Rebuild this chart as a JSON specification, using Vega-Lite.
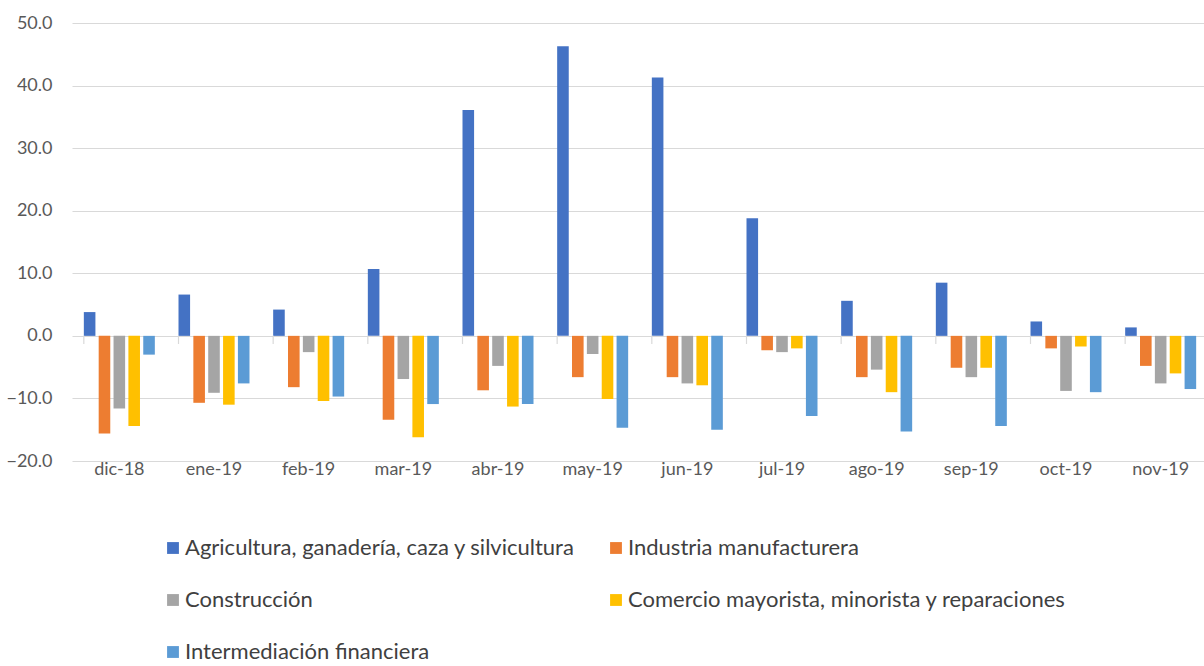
{
  "$schema": "https://vega.github.io/schema/vega-lite/v6.json",
  "width": 1136,
  "height": 438,
  "autosize": {"type": "none"},
  "padding": {"left": 72, "top": 23, "right": 0, "bottom": 205},
  "background": "white",
  "config": {
    "font": "Lato",
    "view": {"stroke": null}
  },
  "datasets": {
    "rows": [
      {"m": "dic-18", "s": "Agricultura, ganadería, caza y silvicultura", "v": 3.8},
      {"m": "dic-18", "s": "Industria manufacturera", "v": -15.6},
      {"m": "dic-18", "s": "Construcción", "v": -11.6},
      {"m": "dic-18", "s": "Comercio mayorista, minorista y reparaciones", "v": -14.4},
      {"m": "dic-18", "s": "Intermediación financiera", "v": -3.0},
      {"m": "ene-19", "s": "Agricultura, ganadería, caza y silvicultura", "v": 6.6},
      {"m": "ene-19", "s": "Industria manufacturera", "v": -10.7},
      {"m": "ene-19", "s": "Construcción", "v": -9.1},
      {"m": "ene-19", "s": "Comercio mayorista, minorista y reparaciones", "v": -11.0},
      {"m": "ene-19", "s": "Intermediación financiera", "v": -7.6},
      {"m": "feb-19", "s": "Agricultura, ganadería, caza y silvicultura", "v": 4.2},
      {"m": "feb-19", "s": "Industria manufacturera", "v": -8.2},
      {"m": "feb-19", "s": "Construcción", "v": -2.6},
      {"m": "feb-19", "s": "Comercio mayorista, minorista y reparaciones", "v": -10.4},
      {"m": "feb-19", "s": "Intermediación financiera", "v": -9.7},
      {"m": "mar-19", "s": "Agricultura, ganadería, caza y silvicultura", "v": 10.7},
      {"m": "mar-19", "s": "Industria manufacturera", "v": -13.4},
      {"m": "mar-19", "s": "Construcción", "v": -6.9},
      {"m": "mar-19", "s": "Comercio mayorista, minorista y reparaciones", "v": -16.2},
      {"m": "mar-19", "s": "Intermediación financiera", "v": -10.9},
      {"m": "abr-19", "s": "Agricultura, ganadería, caza y silvicultura", "v": 36.1},
      {"m": "abr-19", "s": "Industria manufacturera", "v": -8.7},
      {"m": "abr-19", "s": "Construcción", "v": -4.8},
      {"m": "abr-19", "s": "Comercio mayorista, minorista y reparaciones", "v": -11.3},
      {"m": "abr-19", "s": "Intermediación financiera", "v": -10.9},
      {"m": "may-19", "s": "Agricultura, ganadería, caza y silvicultura", "v": 46.3},
      {"m": "may-19", "s": "Industria manufacturera", "v": -6.6},
      {"m": "may-19", "s": "Construcción", "v": -2.9},
      {"m": "may-19", "s": "Comercio mayorista, minorista y reparaciones", "v": -10.1},
      {"m": "may-19", "s": "Intermediación financiera", "v": -14.7},
      {"m": "jun-19", "s": "Agricultura, ganadería, caza y silvicultura", "v": 41.3},
      {"m": "jun-19", "s": "Industria manufacturera", "v": -6.6},
      {"m": "jun-19", "s": "Construcción", "v": -7.6},
      {"m": "jun-19", "s": "Comercio mayorista, minorista y reparaciones", "v": -7.9},
      {"m": "jun-19", "s": "Intermediación financiera", "v": -15.0},
      {"m": "jul-19", "s": "Agricultura, ganadería, caza y silvicultura", "v": 18.8},
      {"m": "jul-19", "s": "Industria manufacturera", "v": -2.3},
      {"m": "jul-19", "s": "Construcción", "v": -2.6},
      {"m": "jul-19", "s": "Comercio mayorista, minorista y reparaciones", "v": -2.0},
      {"m": "jul-19", "s": "Intermediación financiera", "v": -12.8},
      {"m": "ago-19", "s": "Agricultura, ganadería, caza y silvicultura", "v": 5.6},
      {"m": "ago-19", "s": "Industria manufacturera", "v": -6.6},
      {"m": "ago-19", "s": "Construcción", "v": -5.4},
      {"m": "ago-19", "s": "Comercio mayorista, minorista y reparaciones", "v": -9.0},
      {"m": "ago-19", "s": "Intermediación financiera", "v": -15.3},
      {"m": "sep-19", "s": "Agricultura, ganadería, caza y silvicultura", "v": 8.5},
      {"m": "sep-19", "s": "Industria manufacturera", "v": -5.1},
      {"m": "sep-19", "s": "Construcción", "v": -6.6},
      {"m": "sep-19", "s": "Comercio mayorista, minorista y reparaciones", "v": -5.1},
      {"m": "sep-19", "s": "Intermediación financiera", "v": -14.4},
      {"m": "oct-19", "s": "Agricultura, ganadería, caza y silvicultura", "v": 2.3},
      {"m": "oct-19", "s": "Industria manufacturera", "v": -2.0},
      {"m": "oct-19", "s": "Construcción", "v": -8.8},
      {"m": "oct-19", "s": "Comercio mayorista, minorista y reparaciones", "v": -1.7},
      {"m": "oct-19", "s": "Intermediación financiera", "v": -9.0},
      {"m": "nov-19", "s": "Agricultura, ganadería, caza y silvicultura", "v": 1.35},
      {"m": "nov-19", "s": "Industria manufacturera", "v": -4.8},
      {"m": "nov-19", "s": "Construcción", "v": -7.6},
      {"m": "nov-19", "s": "Comercio mayorista, minorista y reparaciones", "v": -6.0},
      {"m": "nov-19", "s": "Intermediación financiera", "v": -8.5}
    ],
    "months": [
      {"m": "dic-18"}, {"m": "ene-19"}, {"m": "feb-19"}, {"m": "mar-19"},
      {"m": "abr-19"}, {"m": "may-19"}, {"m": "jun-19"}, {"m": "jul-19"},
      {"m": "ago-19"}, {"m": "sep-19"}, {"m": "oct-19"}, {"m": "nov-19"}
    ]
  },
  "layer": [
    {
      "data": {"name": "rows"},
      "mark": {"type": "bar"},
      "encoding": {
        "x": {
          "field": "m", "type": "nominal", "sort": null,
          "scale": {"paddingInner": 0.25, "paddingOuter": 0.125},
          "axis": {
            "title": null, "domain": false, "ticks": false, "labelAngle": 0,
            "labelFont": "Lato", "labelFontSize": 18, "labelColor": "#595959",
            "labelPadding": -1
          }
        },
        "xOffset": {
          "field": "s", "type": "nominal", "sort": null,
          "scale": {"paddingInner": 0.22, "paddingOuter": 0}
        },
        "y": {
          "field": "v", "type": "quantitative",
          "scale": {"domain": [-20, 50], "nice": false, "zero": false},
          "axis": {
            "title": null, "values": [-20, -10, 0, 10, 20, 30, 40, 50],
            "format": ".1f", "domain": false, "ticks": false,
            "gridColor": "#d9d9d9", "gridWidth": 1.2,
            "labelFont": "Lato", "labelFontSize": 18, "labelColor": "#595959",
            "labelPadding": 20
          }
        },
        "color": {
          "field": "s", "type": "nominal", "sort": null,
          "scale": {
            "domain": [
              "Agricultura, ganadería, caza y silvicultura",
              "Industria manufacturera",
              "Construcción",
              "Comercio mayorista, minorista y reparaciones",
              "Intermediación financiera"
            ],
            "range": ["#4472C4", "#ED7D31", "#A5A5A5", "#FFC000", "#5B9BD5"]
          },
          "legend": {
            "title": null, "orient": "none", "legendX": 90, "legendY": 514,
            "columns": 2, "direction": "horizontal",
            "symbolType": "square", "symbolSize": 140, "symbolStrokeWidth": 0,
            "labelFont": "Lato", "labelFontSize": 22, "labelColor": "#404040",
            "labelLimit": 600, "labelOffset": 1,
            "rowPadding": 30, "columnPadding": 30
          }
        }
      }
    },
    {
      "data": {"name": "months"},
      "mark": {"type": "rule", "color": "#d9d9d9", "strokeWidth": 1.2},
      "encoding": {
        "x": {"field": "m", "type": "nominal", "sort": null, "bandPosition": 0},
        "y": {"datum": 0},
        "y2": {"datum": -1.3}
      }
    }
  ]
}
